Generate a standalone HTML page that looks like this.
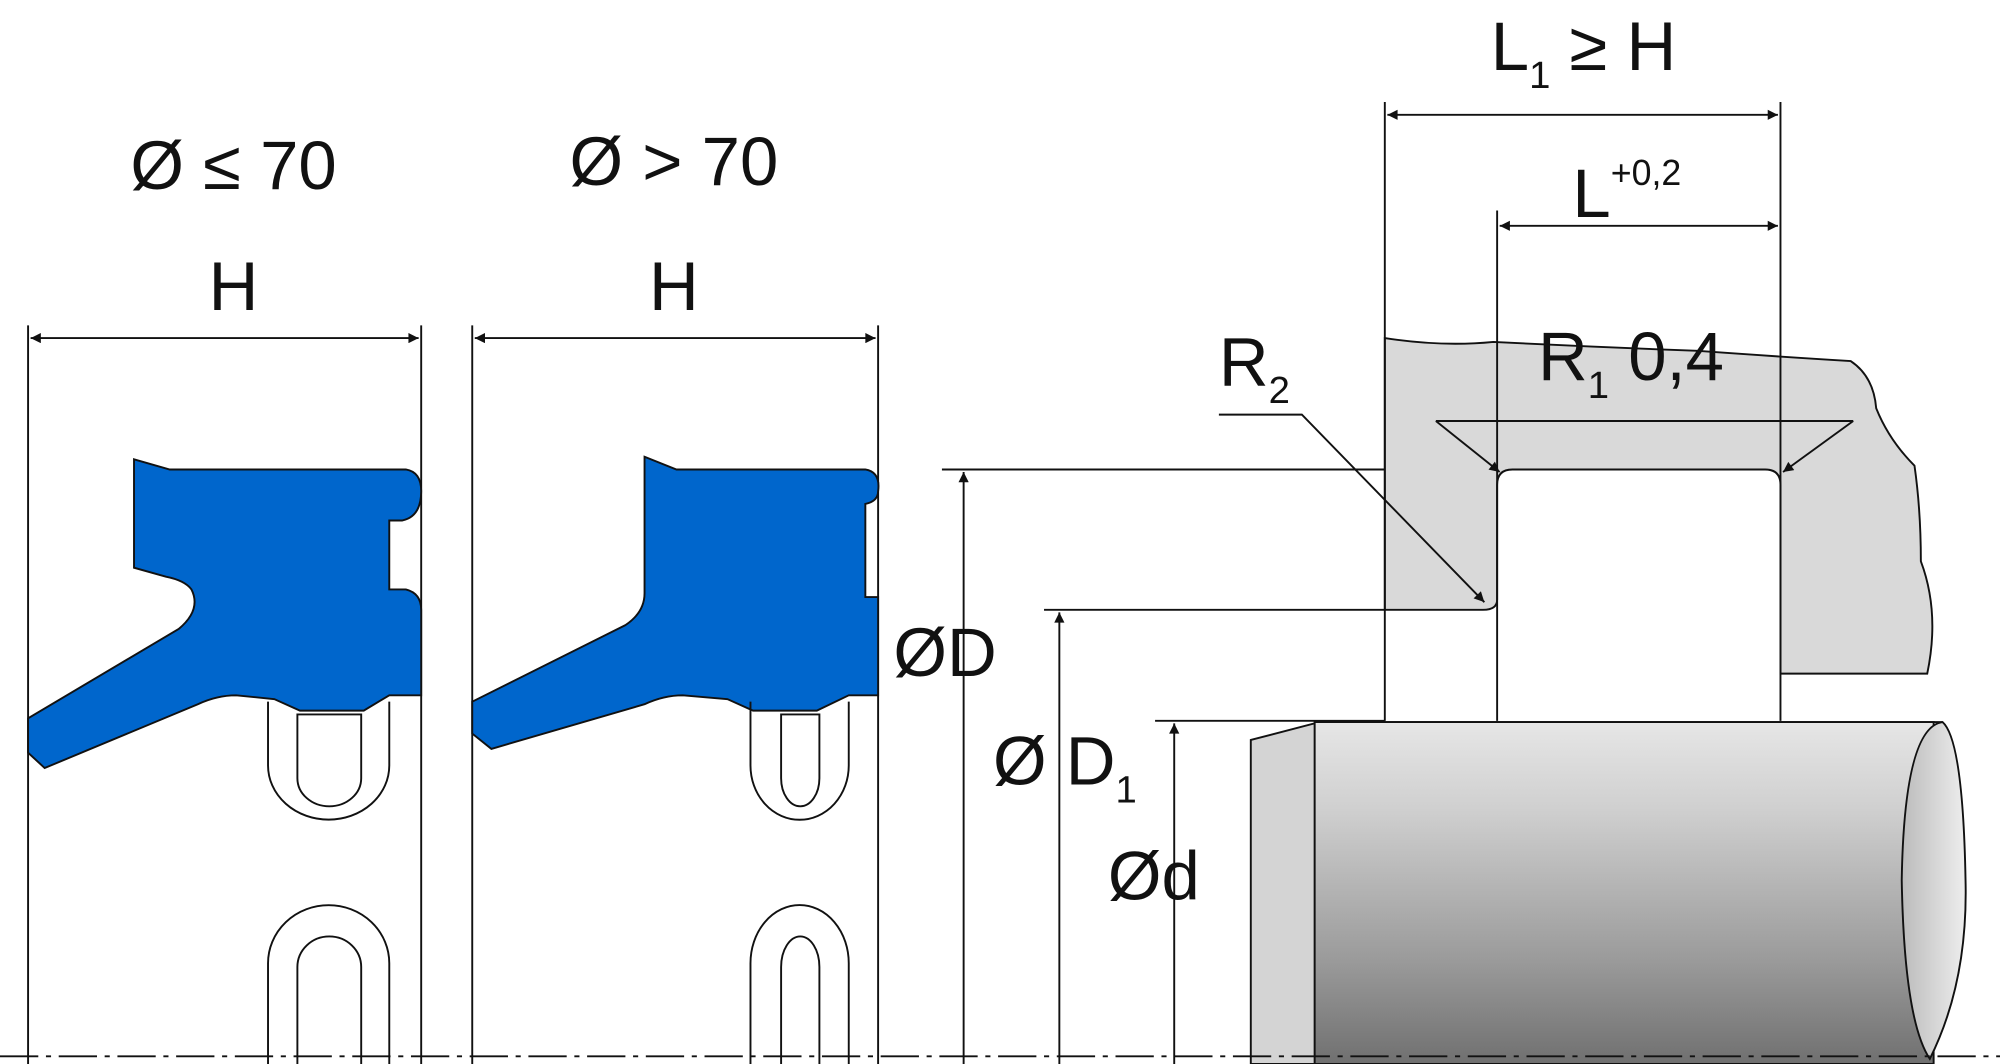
<!DOCTYPE html>
<html><head><meta charset="utf-8"><style>html,body{margin:0;padding:0;background:#fff}svg{display:block}text{font-family:"Liberation Sans",Arial,sans-serif;fill:#111}</style></head><body>
<svg width="2000" height="1064" viewBox="0 0 1567 834" preserveAspectRatio="none" xmlns="http://www.w3.org/2000/svg">
<defs>
<marker id="a" viewBox="0 0 10 10" refX="10" refY="5" markerWidth="12" markerHeight="8" orient="auto-start-reverse" markerUnits="userSpaceOnUse"><path d="M0,0 L10,5 L0,10 z" fill="#111"/></marker>
<linearGradient id="rod" x1="0" y1="0" x2="0" y2="1"><stop offset="0" stop-color="#e6e6e6"/><stop offset="0.25" stop-color="#d0d0d0"/><stop offset="0.7" stop-color="#9a9a9a"/><stop offset="1" stop-color="#707070"/></linearGradient>
<linearGradient id="end" x1="0" y1="0" x2="1" y2="0"><stop offset="0" stop-color="#bbb"/><stop offset="1" stop-color="#eee"/></linearGradient>
</defs>
<g stroke="#111" stroke-width="1.5" fill="none">
<line x1="22" y1="255" x2="22" y2="834"/><line x1="330" y1="255" x2="330" y2="834"/>
<line x1="24" y1="265" x2="328" y2="265" marker-start="url(#a)" marker-end="url(#a)"/>
<path d="M105,360 L133,368 L318,368 Q330,370 330,385 Q330,405 315,408 L305,408 L305,462 L318,462 Q330,465 330,478 L330,545 L305,545 L285,557 L235,557 L215,548 L185,545 Q170,545 155,552 L35,602 L22,590 L22,563 L140,493 Q158,478 150,462 Q145,455 130,452 L105,445 Z" fill="#0066cc"/>
<path d="M210,550 L210,600 A47,42 0 0 0 305,600 L305,550"/>
<path d="M233,560 L233,610 A25,22 0 0 0 283,610 L283,560 Z"/>
<path d="M210,834 L210,755 A47,45 0 0 1 305,755 L305,834"/>
<path d="M233,834 L233,758 A25,24 0 0 1 283,758 L283,834"/>
<line x1="370" y1="255" x2="370" y2="834"/><line x1="688" y1="255" x2="688" y2="834"/>
<line x1="372" y1="265" x2="686" y2="265" marker-start="url(#a)" marker-end="url(#a)"/>
<path d="M505,358 L530,368 L678,368 Q690,370 688,385 Q688,393 678,395 L678,468 L688,468 L688,545 L665,545 L640,557 L590,557 L570,548 L535,545 Q520,545 505,552 L385,587 L370,575 L370,550 L490,490 Q505,480 505,465 Z" fill="#0066cc"/>
<path d="M588,550 L588,600 A38,42 0 0 0 665,600 L665,550"/>
<path d="M612,560 L612,610 A15,22 0 0 0 642,610 L642,560 Z"/>
<path d="M588,834 L588,755 A38,45 0 0 1 665,755 L665,834"/>
<path d="M612,834 L612,758 A15,24 0 0 1 642,758 L642,834"/>
<path d="M1085,265 Q1130,272 1170,268 Q1250,272 1330,275 Q1400,280 1450,283 Q1468,295 1470,320 Q1480,345 1500,365 Q1505,400 1505,440 Q1520,480 1510,528 L1395,528 L1395,380 Q1395,368 1383,368 L1185,368 Q1173,368 1173,380 L1173,470 Q1173,478 1162,478 L1085,478 Z" fill="#d9d9d9"/>
<line x1="1085" y1="80" x2="1085" y2="565"/><line x1="1395" y1="80" x2="1395" y2="565"/><line x1="1173" y1="165" x2="1173" y2="565"/>
<line x1="1087" y1="90" x2="1393" y2="90" marker-start="url(#a)" marker-end="url(#a)"/>
<line x1="1175" y1="177" x2="1393" y2="177" marker-start="url(#a)" marker-end="url(#a)"/>
<line x1="1125" y1="330" x2="1452" y2="330"/>
<line x1="1125" y1="330" x2="1175" y2="370" marker-end="url(#a)"/>
<line x1="1452" y1="330" x2="1397" y2="370" marker-end="url(#a)"/>
<path d="M955,325 L1020,325 L1163,472" marker-end="url(#a)"/>
<line x1="738" y1="368" x2="1085" y2="368"/>
<line x1="755" y1="834" x2="755" y2="370" marker-end="url(#a)"/>
<line x1="818" y1="478" x2="1085" y2="478"/>
<line x1="830" y1="834" x2="830" y2="480" marker-end="url(#a)"/>
<line x1="905" y1="565" x2="1085" y2="565"/>
<line x1="920" y1="834" x2="920" y2="567" marker-end="url(#a)"/>
<path d="M1030,566 L1515,566 L1515,834 L1030,834 Z" fill="url(#rod)"/>
<path d="M980,580 L1030,567 L1030,834 L980,834 Z" fill="#d4d4d4"/>
<path d="M1522,566 Q1492,570 1490,690 Q1492,800 1512,830 Q1542,770 1540,690 Q1538,580 1522,566 Z" fill="url(#end)"/>
<line x1="1030" y1="566" x2="1522" y2="566"/>
<line x1="0" y1="828" x2="1567" y2="828" stroke-dasharray="30,6,4,6"/>
</g>
<g font-size="54">
<text x="183" y="148" text-anchor="middle">Ø ≤ 70</text>
<text x="528" y="145" text-anchor="middle">Ø &gt; 70</text>
<text x="183" y="243" text-anchor="middle">H</text>
<text x="528" y="243" text-anchor="middle">H</text>
<text x="1168" y="55">L<tspan font-size="30" dy="14">1</tspan><tspan dy="-14"> ≥ H</tspan></text>
<text x="1232" y="170">L<tspan font-size="28" dy="-25">+0,2</tspan></text>
<text x="1205" y="298">R<tspan font-size="30" dy="14">1</tspan><tspan dy="-14"> 0,4</tspan></text>
<text x="955" y="302">R<tspan font-size="30" dy="14">2</tspan></text>
<text x="700" y="530">ØD</text>
<text x="778" y="615">Ø D<tspan font-size="30" dy="14">1</tspan></text>
<text x="868" y="705">Ød</text>
</g>
</svg>
</body></html>
